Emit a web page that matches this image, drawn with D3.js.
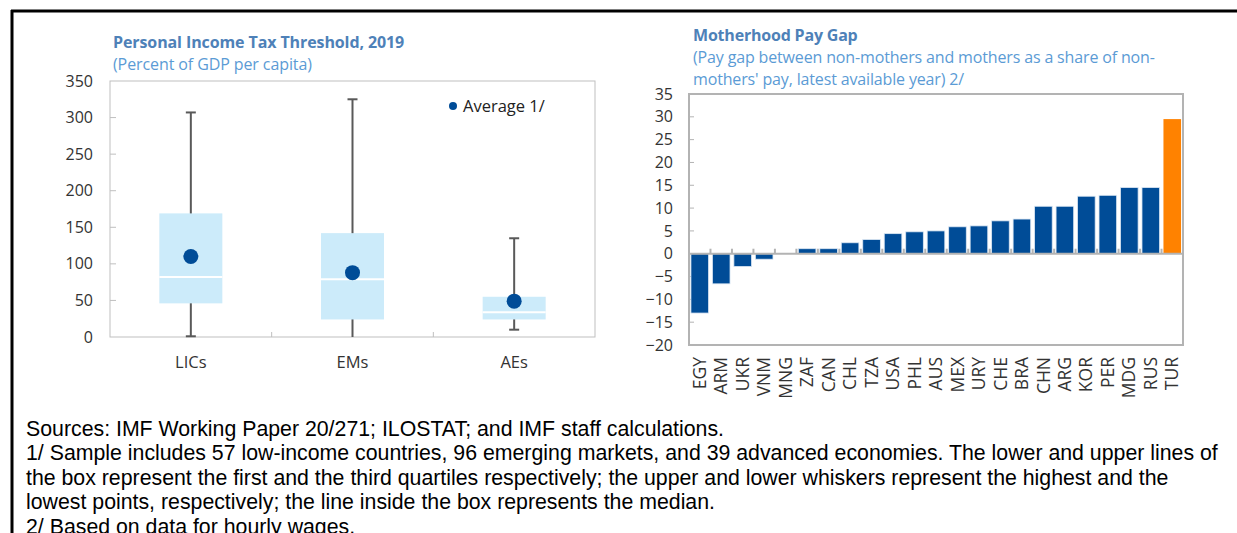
<!DOCTYPE html>
<html><head><meta charset="utf-8">
<script src="https://cdn.jsdelivr.net/npm/d3@7"></script>
<style>body{margin:0;background:#fff}svg{display:block}</style>
</head><body>
<svg id="c" width="1237" height="533"></svg>
<script>
// ---- Data: left box plot ----
const groups = ["LICs", "EMs", "AEs"];
const whiskerLow = [1, 0, 10];
const q1 = [46, 24, 24];
const median = [82, 79, 34];
const q3 = [169, 142, 55];
const whiskerHigh = [307, 325, 135];
const average = [110, 88, 49];
const leftTicks = [0, 50, 100, 150, 200, 250, 300, 350];

// ---- Data: right bar chart ----
const countries = ["EGY","ARM","UKR","VNM","MNG","ZAF","CAN","CHL","TZA","USA","PHL","AUS","MEX","URY","CHE","BRA","CHN","ARG","KOR","PER","MDG","RUS","TUR"];
const payGap = [-13.0,-6.6,-2.8,-1.2,0,1.1,1.1,2.4,3.1,4.4,4.8,5.0,5.9,6.1,7.2,7.6,10.4,10.4,12.6,12.8,14.5,14.5,29.5];
const highlight = ["TUR"];
const rightTicks = [-20,-15,-10,-5,0,5,10,15,20,25,30,35];

const footnotes = [
  "Sources: IMF Working Paper 20/271; ILOSTAT; and IMF staff calculations.",
  "1/ Sample includes 57 low-income countries, 96 emerging markets, and 39 advanced economies. The lower and upper lines of",
  "the box represent the first and the third quartiles respectively; the upper and lower whiskers represent the highest and the",
  "lowest points, respectively; the line inside the box represents the median.",
  "2/ Based on data for hourly wages."
];

const DARK = "#004C97", LIGHT = "#CCEBFA", ORANGE = "#FF8200";
const TITLE = "#4E81B8", SUB = "#5B9BD5", TXT = "#333333", FRAME = "#BFBFBF";
const FONT = "'Open Sans', 'Noto Sans', sans-serif";

const svg = d3.select("#c");

// outer frame
svg.append("line").attr("x1", 12).attr("x2", 12).attr("y1", 10).attr("y2", 533).attr("stroke", "#000").attr("stroke-width", 3);
svg.append("line").attr("x1", 11).attr("x2", 1237).attr("y1", 11).attr("y2", 11).attr("stroke", "#000").attr("stroke-width", 3);

// ================= LEFT =================
const xL = d3.scaleBand().domain(groups).range([110, 595]);
const yL = d3.scaleLinear().domain([0, 350]).range([337, 81]);
const gL = svg.append("g").attr("font-family", FONT);

gL.append("text").attr("x", 113).attr("y", 48).attr("fill", TITLE).attr("font-weight", 700)
  .attr("font-size", 16).attr("letter-spacing", -0.1).text("Personal Income Tax Threshold, 2019");
gL.append("text").attr("x", 113).attr("y", 70).attr("fill", SUB)
  .attr("font-size", 16).attr("letter-spacing", -0.1).text("(Percent of GDP per capita)");

// plot frame
gL.append("rect").attr("x", 110).attr("y", yL(350)).attr("width", 485).attr("height", yL(0) - yL(350))
  .attr("fill", "none").attr("stroke", FRAME).attr("stroke-width", 1);

// y axis
const axL = gL.append("g").attr("transform", "translate(110,0)")
  .call(d3.axisLeft(yL).tickValues(leftTicks).tickSize(0).tickPadding(17));
axL.select(".domain").remove();
axL.selectAll("text").attr("font-size", 16).attr("fill", TXT).attr("font-family", FONT);
gL.selectAll(".ytL").data(leftTicks.slice(1, -1)).join("line")
  .attr("x1", 110).attr("x2", 116).attr("y1", d => yL(d)).attr("y2", d => yL(d)).attr("stroke", FRAME);
// x ticks between groups
gL.selectAll(".xtL").data(groups.slice(1)).join("line")
  .attr("x1", d => xL(d)).attr("x2", d => xL(d)).attr("y1", yL(0)).attr("y2", yL(0) - 5).attr("stroke", FRAME);
gL.selectAll(".xlab").data(groups).join("text")
  .attr("x", d => xL(d) + xL.bandwidth() / 2).attr("y", 368).attr("text-anchor", "middle")
  .attr("font-size", 16.5).attr("fill", TXT).text(d => d);

const bw = 63;
groups.forEach((g, i) => {
  const cx = xL(g) + xL.bandwidth() / 2;
  gL.append("line").attr("x1", cx).attr("x2", cx).attr("y1", yL(whiskerLow[i])).attr("y2", yL(whiskerHigh[i]))
    .attr("stroke", "#595959").attr("stroke-width", 2);
  [whiskerLow[i], whiskerHigh[i]].forEach(v => {
    if (v > 0) gL.append("line").attr("x1", cx - 5).attr("x2", cx + 5).attr("y1", yL(v)).attr("y2", yL(v))
      .attr("stroke", "#595959").attr("stroke-width", 2);
  });
  gL.append("rect").attr("x", cx - bw / 2).attr("width", bw).attr("y", yL(q3[i])).attr("height", yL(q1[i]) - yL(q3[i]))
    .attr("fill", LIGHT);
  gL.append("line").attr("x1", cx - bw / 2).attr("x2", cx + bw / 2).attr("y1", yL(median[i])).attr("y2", yL(median[i]))
    .attr("stroke", "#fff").attr("stroke-width", 2);
  gL.append("circle").attr("cx", cx).attr("cy", yL(average[i])).attr("r", 7.5).attr("fill", DARK);
});

// legend
gL.append("circle").attr("cx", 453).attr("cy", 106).attr("r", 4).attr("fill", DARK);
gL.append("text").attr("x", 463).attr("y", 112).attr("font-size", 16.5).attr("fill", "#222").text("Average 1/");

// ================= RIGHT =================
const xR = d3.scaleBand().domain(countries).range([689, 1183]).paddingInner(0.18).paddingOuter(0.09);
const yR = d3.scaleLinear().domain([-20, 35]).range([345, 94]);
const gR = svg.append("g").attr("font-family", FONT);

gR.append("text").attr("x", 693).attr("y", 41).attr("fill", TITLE).attr("font-weight", 700)
  .attr("font-size", 16).attr("letter-spacing", -0.2).text("Motherhood Pay Gap");
gR.append("text").attr("x", 693).attr("y", 63).attr("fill", SUB)
  .attr("font-size", 16).attr("letter-spacing", -0.15).text("(Pay gap between non-mothers and mothers as a share of non-");
gR.append("text").attr("x", 693).attr("y", 85).attr("fill", SUB)
  .attr("font-size", 16).attr("letter-spacing", -0.15).text("mothers' pay, latest available year) 2/");

gR.append("rect").attr("x", 689).attr("y", yR(35)).attr("width", 494).attr("height", yR(-20) - yR(35))
  .attr("fill", "none").attr("stroke", "#B3B3B3").attr("stroke-width", 2);

const axR = gR.append("g").attr("transform", "translate(689,0)")
  .call(d3.axisLeft(yR).tickValues(rightTicks).tickSize(0).tickPadding(16));
axR.select(".domain").remove();
axR.selectAll("text").attr("font-size", 16).attr("fill", TXT).attr("font-family", FONT);
gR.selectAll(".ytR").data(rightTicks.slice(1, -1)).join("line")
  .attr("x1", 689).attr("x2", 694).attr("y1", d => yR(d)).attr("y2", d => yR(d)).attr("stroke", "#B3B3B3");

gR.selectAll(".bar").data(countries).join("rect")
  .attr("x", d => xR(d)).attr("width", xR.bandwidth())
  .attr("y", (d, i) => yR(Math.max(0, payGap[i])))
  .attr("height", (d, i) => Math.abs(yR(payGap[i]) - yR(0)))
  .attr("fill", d => highlight.includes(d) ? ORANGE : DARK)
  .attr("stroke", d => highlight.includes(d) ? "none" : "#dbe7f3").attr("stroke-width", 0.8);

// zero line + ticks between bars
gR.append("line").attr("x1", 689).attr("x2", 1183).attr("y1", yR(0)).attr("y2", yR(0)).attr("stroke", "#B3B3B3").attr("stroke-width", 2);
const step = xR.step();
gR.selectAll(".xtR").data(countries.slice(1)).join("line")
  .attr("x1", d => xR(d) - step * 0.09).attr("x2", d => xR(d) - step * 0.09)
  .attr("y1", yR(0)).attr("y2", yR(0) - 5).attr("stroke", "#B3B3B3").attr("stroke-width", 2);

gR.selectAll(".xlabR").data(countries).join("text")
  .attr("transform", d => `translate(${xR(d) + xR.bandwidth() / 2},357) rotate(-90)`)
  .attr("text-anchor", "end").attr("dy", "0.35em")
  .attr("font-size", 17.5).attr("fill", TXT).text(d => d);

// ================= FOOTNOTES =================
svg.append("g").selectAll("text").data(footnotes).join("text")
  .attr("x", 26).attr("y", (d, i) => 436 + i * 24.4)
  .attr("font-family", "'Liberation Sans', Arial, sans-serif").attr("font-size", 21.3).attr("fill", "#000")
  .text(d => d);
</script>
</body></html>
